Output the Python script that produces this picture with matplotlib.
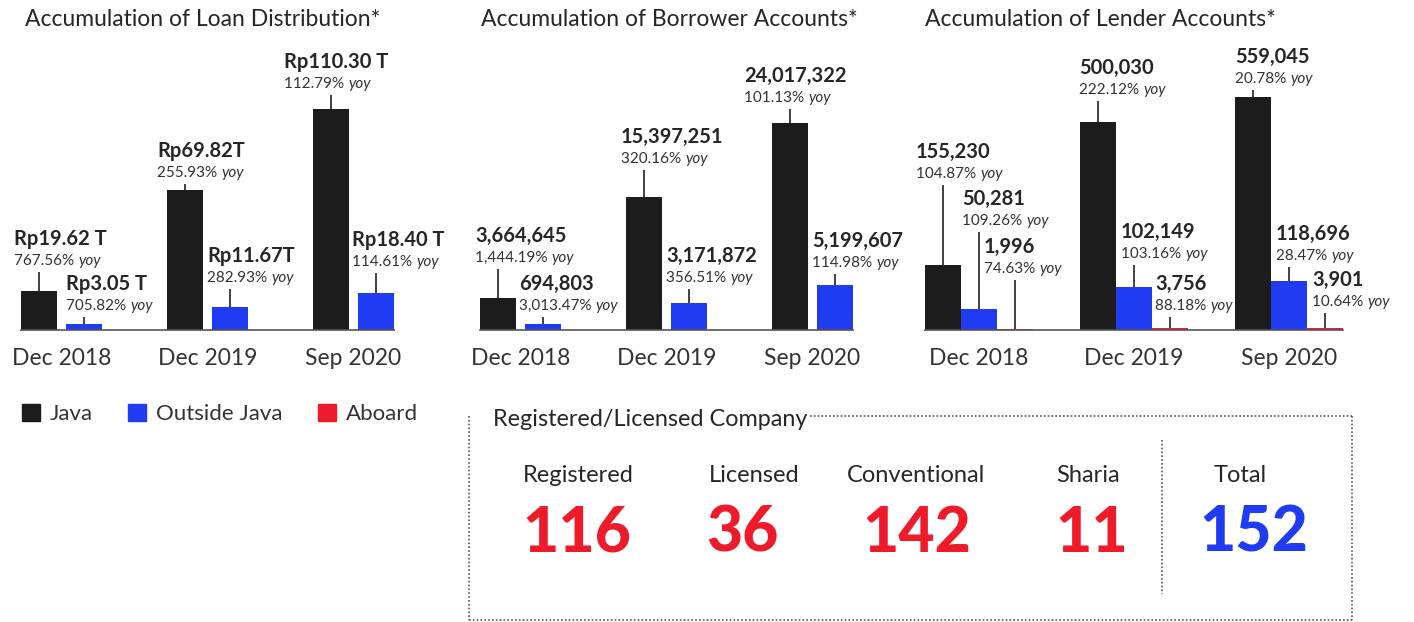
import numpy as np
import matplotlib
matplotlib.use("Agg")
import matplotlib.pyplot as plt
import matplotlib.transforms as mtransforms
from matplotlib.offsetbox import TextArea, VPacker, HPacker, AnnotationBbox
from matplotlib.patches import Patch

plt.rcParams['font.family'] = ['Lato', 'DejaVu Sans']

# --- data ---
periods = ["Dec 2018", "Dec 2019", "Sep 2020"]
series_names = ["Java", "Outside Java", "Aboard"]

# loan distribution (Rp trillion)
loan_java = [19.62, 69.82, 110.30]
loan_outside = [3.05, 11.67, 18.40]
loan_java_text = ["Rp19.62 T", "Rp69.82T", "Rp110.30 T"]
loan_outside_text = ["Rp3.05 T", "Rp11.67T", "Rp18.40 T"]
loan_java_yoy = ["767.56%", "255.93%", "112.79%"]
loan_outside_yoy = ["705.82%", "282.93%", "114.61%"]

# borrower accounts
borrower_java = [3664645, 15397251, 24017322]
borrower_outside = [694803, 3171872, 5199607]
borrower_java_yoy = ["1,444.19%", "320.16%", "101.13%"]
borrower_outside_yoy = ["3,013.47%", "356.51%", "114.98%"]

# lender accounts
lender_java = [155230, 500030, 559045]
lender_outside = [50281, 102149, 118696]
lender_aboard = [1996, 3756, 3901]
lender_java_yoy = ["104.87%", "222.12%", "20.78%"]
lender_outside_yoy = ["109.26%", "103.16%", "28.47%"]
lender_aboard_yoy = ["74.63%", "88.18%", "10.64%"]

# registered / licensed companies
company_labels = ["Registered", "Licensed", "Conventional", "Sharia", "Total"]
company_counts = [116, 36, 142, 11, 152]

# --- colours / layout ---
C_JAVA = "#1c1c1c"
C_OUT = "#1f3cf2"
C_ABOARD = "#ee1c2a"
C_TEXT = "#262626"

W, H = 1414, 622
BASE = 330    # baseline row (px from top)
AX_H = 280    # axes height in px

fig = plt.figure(figsize=(W / 100, H / 100), dpi=100)


def fmt(v):
    return f"{v:,}"


def bar_chart(title, title_x, first_center, spacing, width_px, offsets,
              series, colors, texts, yoys, label_h, label_dx, top_px):
    n = len(series[0])
    x = np.arange(n)
    left = first_center + min(offsets) - width_px / 2
    right = first_center + (n - 1) * spacing + max(offsets) + width_px / 2
    ax = fig.add_axes([left / W, 1 - BASE / H, (right - left) / W, AX_H / H])
    ax.set_xlim((left - first_center) / spacing, (right - first_center) / spacing)
    ymax = max(max(s) for s in series) * AX_H / top_px
    ax.set_ylim(0, ymax)
    px = ymax / AX_H  # data units per pixel

    blend = mtransforms.blended_transform_factory(ax.transData, ax.transAxes)
    handles = []
    for s, vals in enumerate(series):
        xs = x + offsets[s] / spacing
        b = ax.bar(xs, vals, width=width_px / spacing, color=colors[s], zorder=2)
        handles.append(b)
        for i, v in enumerate(vals):
            lab_y = label_h[s][i]
            top_line = (lab_y - 4) * px
            if top_line - v > 4 * px:
                ax.plot([xs[i], xs[i]], [v, top_line], color="#333333",
                        lw=1.3, zorder=1, solid_capstyle="butt")
            val = TextArea(texts[s][i], textprops=dict(fontsize=14.5, fontweight="bold",
                                                        color=C_TEXT))
            pct = TextArea(yoys[s][i] + " ", textprops=dict(fontsize=11, color="#333333"))
            yy = TextArea("yoy", textprops=dict(fontsize=11, color="#333333",
                                                 fontstyle="italic"))
            line2 = HPacker(children=[pct, yy], align="baseline", pad=0, sep=0)
            box = VPacker(children=[val, line2], align="left", pad=0, sep=3.5)
            tr = mtransforms.offset_copy(blend, fig=fig, x=label_dx[s][i], y=0,
                                         units="dots")
            ab = AnnotationBbox(box, (xs[i], lab_y / AX_H), xycoords=tr,
                                box_alignment=(0, 0), frameon=False, pad=0,
                                annotation_clip=False)
            ax.add_artist(ab)

    for sp in ["top", "right", "left"]:
        ax.spines[sp].set_visible(False)
    ax.spines["bottom"].set_color("#555555")
    ax.spines["bottom"].set_linewidth(1.2)
    ax.set_yticks([])
    ax.set_xticks(x)
    ax.set_xticklabels(periods, fontsize=16.5, color="#333333")
    ax.tick_params(axis="x", length=0, pad=13)
    ax.patch.set_alpha(0)

    fig.text(title_x / W, 1 - 20 / H, title, fontsize=16.5, color=C_TEXT,
             ha="left", va="center")
    return handles


bar_chart("Accumulation of Loan Distribution*", 25, 61.5, 146, 36, [-22.5, 22.5],
          [loan_java, loan_outside], [C_JAVA, C_OUT],
          [loan_java_text, loan_outside_text], [loan_java_yoy, loan_outside_yoy],
          [[62, 150, 239], [17, 45, 61]],
          [[-25, -28, -47], [-18, -23, -24]], 221)

bar_chart("Accumulation of Borrower Accounts*", 481, 520.5, 146, 36, [-22.5, 22.5],
          [borrower_java, borrower_outside], [C_JAVA, C_OUT],
          [[fmt(v) for v in borrower_java], [fmt(v) for v in borrower_outside]],
          [borrower_java_yoy, borrower_outside_yoy],
          [[65, 164, 225], [17, 45, 60]],
          [[-23, -23, -46], [-24, -23, -23]], 207)

lender_handles = bar_chart(
    "Accumulation of Lender Accounts*", 925, 979, 155, 36, [-36, 0, 36],
    [lender_java, lender_outside, lender_aboard], [C_JAVA, C_OUT, C_ABOARD],
    [[fmt(v) for v in lender_java], [fmt(v) for v in lender_outside],
     [fmt(v) for v in lender_aboard]],
    [lender_java_yoy, lender_outside_yoy, lender_aboard_yoy],
    [[149, 233, 244], [102, 69, 67], [54, 17, 21]],
    [[-27, -19, -18], [-17, -13, -13], [-31, -15, -13]], 233)

# legend
fig.legend([Patch(color=c) for c in [C_JAVA, C_OUT, C_ABOARD]], series_names,
           loc="upper left", bbox_to_anchor=(22 / W, 1 - 404 / H), ncol=3,
           frameon=False, fontsize=16, handlelength=0.8, handleheight=0.8,
           handletextpad=0.45, columnspacing=1.6, borderaxespad=0, borderpad=0,
           labelcolor="#333333")

# company box (drawn in a pixel-coordinate overlay)
ov = fig.add_axes([0, 0, 1, 1])
ov.set_xlim(0, W)
ov.set_ylim(H, 0)
ov.axis("off")
dot = dict(color="#555555", lw=1.2, linestyle=(0, (1, 1.3)))
ov.plot([469, 469], [416, 620], **dot)
ov.plot([469, 1352], [620, 620], **dot)
ov.plot([1352, 1352], [416, 620], **dot)
ov.plot([810, 1352], [416, 416], **dot)
ov.plot([1162, 1162], [440, 594], **dot)
ov.text(493, 419, "Registered/Licensed Company", fontsize=16.8, color=C_TEXT,
        ha="left", va="center")

label_x = [578, 754, 916, 1088, 1240]
count_x = [577, 742, 917, 1092, 1254]
count_colors = [C_ABOARD] * 4 + [C_OUT]
for lx, cx, lab, cnt, col in zip(label_x, count_x, company_labels, company_counts,
                                 count_colors):
    ov.text(lx, 476, lab, fontsize=17, color=C_TEXT, ha="center", va="center")
    ov.text(cx, 534, str(cnt), fontsize=45, color=col, ha="center", va="center",
            fontweight="black")

fig.savefig("out.png", dpi=100)
